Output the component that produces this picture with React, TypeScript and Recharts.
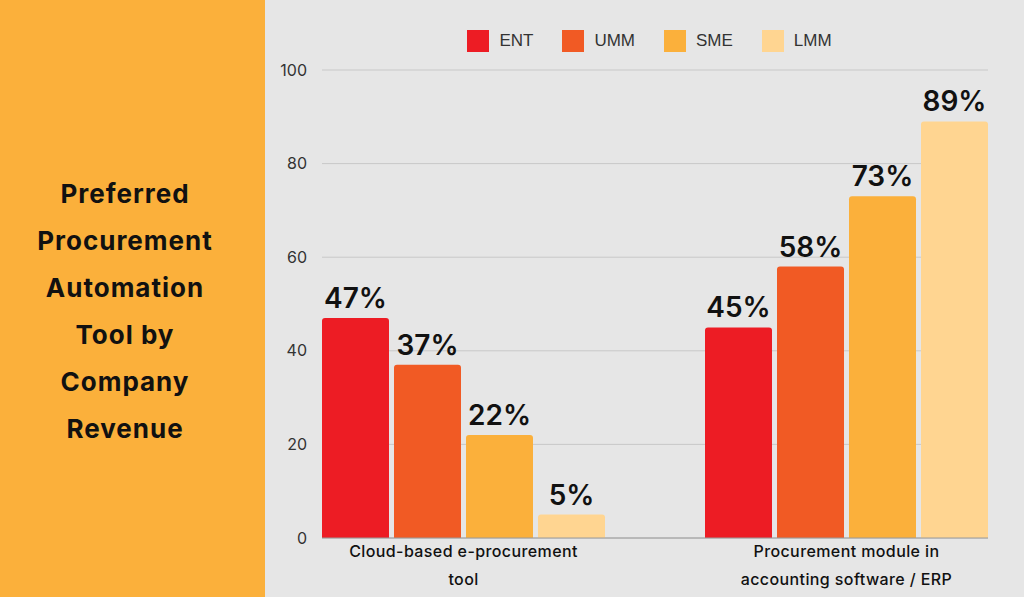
import { BarChart, Bar, XAxis, YAxis, CartesianGrid, Legend, LabelList } from "recharts";

const categories = ["Cloud-based e-procurement tool", "Procurement module in accounting software / ERP"];
const categoryLines = [
  ["Cloud-based e-procurement", "tool"],
  ["Procurement module in", "accounting software / ERP"],
];
const ent = [47, 45];
const umm = [37, 58];
const sme = [22, 73];
const lmm = [5, 89];
const yTicks = [0, 20, 40, 60, 80, 100];
const titleLines = ["Preferred", "Procurement", "Automation", "Tool by", "Company", "Revenue"];

const series = [
  { key: "ENT", color: "#ED1C24" },
  { key: "UMM", color: "#F15A24" },
  { key: "SME", color: "#FBB03B" },
  { key: "LMM", color: "#FFD591" },
];

const data = categories.map((name, i) => ({
  name,
  ENT: ent[i],
  UMM: umm[i],
  SME: sme[i],
  LMM: lmm[i],
}));

const font = "Inter, 'Noto Sans', sans-serif";

function CategoryTick(props: any) {
  const { x, y, index } = props;
  const lines = categoryLines[index] || [];
  return (
    <text x={x} y={y} textAnchor="middle" fill="#111" fontFamily={font} fontSize={16} fontWeight={500} letterSpacing={0.4}>
      {lines.map((l, i) => (
        <tspan key={i} x={x} dy={i === 0 ? 11 : 28}>
          {l}
        </tspan>
      ))}
    </text>
  );
}

function LegendContent() {
  return (
    <div style={{ display: "flex", justifyContent: "center", gap: 29, paddingLeft: 10 }}>
      {series.map((s) => (
        <div key={s.key} style={{ display: "flex", alignItems: "center", gap: 10 }}>
          <div style={{ width: 22, height: 22, background: s.color }} />
          <span style={{ fontFamily: "'Liberation Sans', Arial, sans-serif", fontSize: 17, color: "#333" }}>{s.key}</span>
        </div>
      ))}
    </div>
  );
}

export default function App() {
  return (
    <div style={{ position: "absolute", left: 0, top: 0, width: 1024, height: 597, background: "#E6E6E6" }}>
      <div style={{ position: "absolute", left: 0, top: 0, width: 265, height: 597, background: "#FBB03B" }} />
      <div
        style={{
          position: "absolute",
          left: 0,
          top: 0,
          width: 250,
          height: 597,
          display: "flex",
          flexDirection: "column",
          alignItems: "center",
          justifyContent: "center",
          paddingTop: 24,
          boxSizing: "border-box",
        }}
      >
        {titleLines.map((t) => (
          <div
            key={t}
            style={{ fontFamily: font, fontWeight: 700, fontSize: 26, letterSpacing: 1, lineHeight: "47px", color: "#111", textAlign: "center", whiteSpace: "nowrap" }}
          >
            {t}
          </div>
        ))}
      </div>
      <div style={{ position: "absolute", left: 265, top: 0 }}>
        <BarChart
          width={759}
          height={597}
          data={data}
          margin={{ top: 70, right: 36, left: 7, bottom: 0 }}
          barSize={67}
          barGap={5}
        >
          <CartesianGrid horizontal vertical={false} stroke="#C8C8C8" />
          <XAxis
            dataKey="name"
            height={59}
            padding={{ left: -50, right: -50 }}
            axisLine={{ stroke: "#9A9A9A" }}
            tickLine={false}
            tick={<CategoryTick />}
            interval={0}
          />
          <YAxis
            width={50}
            domain={[0, 100]}
            ticks={yTicks}
            axisLine={false}
            tickLine={false}
            tickSize={0}
            tickMargin={15}
            tick={{ fill: "#333", fontSize: 16, fontFamily: font }}
          />
          <Legend
            layout="horizontal"
            verticalAlign="middle"
            align="center"
            wrapperStyle={{ top: 30, left: 0, width: 759 }}
            content={<LegendContent />}
          />
          {series.map((s) => (
            <Bar key={s.key} dataKey={s.key} fill={s.color} radius={[3, 3, 0, 0]} isAnimationActive={false}>
              <LabelList
                dataKey={s.key}
                position="top"
                offset={10}
                formatter={(v: any) => `${v}%`}
                style={{ fill: "#111", fontSize: 28, fontWeight: 600, fontFamily: font }}
              />
            </Bar>
          ))}
        </BarChart>
      </div>
    </div>
  );
}
